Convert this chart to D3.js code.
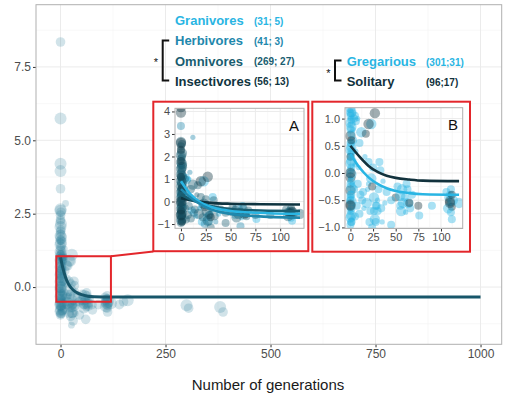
<!DOCTYPE html>
<html>
<head>
<meta charset="utf-8">
<script src="https://cdn.jsdelivr.net/npm/d3@7"></script>
<style>
  body { margin: 0; background: #fff; }
  svg { display: block; font-family: "Liberation Sans", Arial, sans-serif; }
</style>
</head>
<body>
<div id="chart"></div>
<script>
// ---- data: [generations, effect size, weight, social group] ----
const granivores = [
  [0, 1.15, 2, "G"], [0, 0.9, 2, "G"], [1, 0.55, 3, "G"], [0, 0.3, 3, "G"], [2, -0.2, 2, "G"],
  [0, -0.5, 3, "G"], [1, -0.85, 2, "G"], [6, 0.95, 3, "G"], [9, 0.1, 2, "G"], [11, -0.4, 3, "G"],
  [15, -0.65, 2, "G"], [19, -0.3, 2, "G"], [21, -0.9, 3, "G"], [26, -0.7, 3, "G"], [30, -0.5, 2, "G"],
  [38, -0.55, 2, "G"], [55, -0.6, 3, "G"], [61, -0.72, 2, "G"], [76, -0.78, 3, "G"], [109, -0.55, 2, "G"],
  [111, -0.72, 3, "G"], [2, 1.1, 3, "G"], [5, 1.05, 3, "G"], [8, 1.0, 2, "G"], [23, 0.9, 4, "G"],
  [28, -0.9, 3, "G"], [32, 0.2, 3, "G"], [62, -0.2, 3, "G"], [112, -0.85, 3, "G"]
];
const herbivores = [
  [0, 3.35, 3, "G"], [0, 1.55, 2, "G"], [0, 1.0, 2, "G"], [1, 0.4, 3, "G"], [0, -0.1, 2, "G"],
  [0, -0.7, 2, "G"], [3, 0.8, 2, "G"], [9, 1.3, 2, "G"], [12, 2.85, 2, "G"], [13, -0.5, 3, "G"],
  [20, -0.2, 2, "G"], [24, -1.0, 3, "G"], [26, -1.3, 2, "G"], [28, -0.6, 3, "G"], [35, -0.9, 2, "G"],
  [57, -0.3, 4, "G"], [60, -1.1, 3, "G"], [109, -0.4, 2, "G"], [140, -0.6, 3, "G"]
];
const omnivores = [
  [0, 2.65, 4, "G"], [0, 2.45, 3, "G"], [0, 2.25, 3, "G"], [0, 2.05, 4, "G"], [0, 1.9, 3, "G"],
  [0, 1.75, 4, "G"], [0, 1.6, 3, "G"], [0, 1.45, 4, "G"], [0, 1.3, 3, "G"], [0, 1.2, 4, "G"],
  [0, 1.05, 3, "G"], [0, 0.92, 4, "G"], [0, 0.8, 3, "G"], [0, 0.68, 4, "S"], [0, 0.55, 3, "G"],
  [0, 0.42, 4, "G"], [0, 0.3, 3, "S"], [0, 0.18, 4, "G"], [0, 0.05, 3, "G"], [0, -0.08, 4, "S"],
  [0, -0.2, 3, "G"], [0, -0.32, 4, "S"], [0, -0.45, 3, "G"], [0, -0.58, 4, "S"], [0, -0.7, 3, "G"],
  [0, -0.82, 4, "G"], [0, -0.95, 3, "G"], [2, 1.6, 3, "G"], [3, 0.6, 3, "G"], [4, -0.3, 3, "G"],
  [5, 0.15, 2, "G"], [7, -0.6, 3, "G"], [12, 0.75, 4, "G"], [17, 0.72, 3, "S"], [20, 0.2, 3, "G"],
  [23, -0.1, 4, "G"], [26, -0.45, 4, "G"], [29, -0.6, 3, "G"], [33, 0.05, 3, "G"], [40, -0.35, 3, "G"],
  [50, -0.45, 3, "S"], [55, -0.42, 4, "G"], [58, -0.55, 4, "G"], [63, -0.3, 3, "G"], [66, -0.65, 3, "G"],
  [75, -0.6, 3, "S"], [108, -0.45, 3, "G"], [110, -0.52, 4, "S"], [112, -0.62, 3, "S"],
  [160, -0.45, 4, "G"], [300, -0.62, 4, "G"], [305, -0.72, 3, "G"], [380, -0.68, 4, "G"], [387, -0.85, 3, "G"],
  [1, 2.55, 3, "G"], [1, 2.15, 4, "G"], [1, 1.95, 3, "G"], [1, 1.68, 4, "G"], [1, 1.52, 4, "G"],
  [1, 1.38, 3, "G"], [1, 1.12, 4, "G"], [1, 0.98, 3, "G"], [1, 0.85, 4, "G"], [1, 0.72, 3, "G"],
  [1, 0.48, 4, "G"], [1, 0.35, 3, "G"], [1, 0.22, 4, "G"], [1, 0.1, 3, "G"], [1, -0.02, 4, "G"],
  [1, -0.15, 3, "G"], [1, -0.27, 4, "G"], [1, -0.4, 3, "G"], [1, -0.52, 4, "G"], [1, -0.65, 3, "G"],
  [1, -0.78, 4, "G"], [1, -0.9, 3, "G"], [4, 1.0, 3, "G"], [5, -0.8, 3, "G"], [6, 0.4, 2, "G"],
  [8, -0.2, 3, "G"], [10, 0.55, 3, "G"], [10, -0.75, 3, "G"], [14, -0.35, 3, "G"], [16, 0.3, 2, "G"],
  [18, -0.55, 4, "G"], [22, -0.7, 3, "G"], [25, 0.1, 3, "G"], [27, -0.85, 4, "G"], [31, -0.3, 3, "G"],
  [34, -0.65, 3, "G"], [36, -0.15, 2, "G"], [45, -0.5, 3, "G"], [52, -0.25, 3, "G"], [56, -0.7, 4, "G"],
  [60, -0.45, 3, "G"], [64, -0.55, 4, "G"], [68, -0.4, 3, "G"], [106, -0.35, 3, "G"], [108, -0.65, 4, "G"],
  [110, -0.4, 3, "G"], [113, -0.5, 4, "G"], [111, -0.3, 3, "G"], [30, -1.15, 3, "G"], [45, -0.95, 3, "G"],
  [90, -0.6, 3, "G"], [120, -0.55, 4, "G"], [150, -0.5, 3, "G"]
];
const insectivores = [
  [0, 8.35, 3, "S"], [0, 5.74, 4, "S"], [0, 4.2, 4, "S"], [0, 3.95, 4, "S"], [0, 2.6, 4, "S"],
  [0, 2.3, 3, "S"], [0, 1.8, 3, "S"], [0, 1.1, 3, "G"], [1, 0.6, 3, "S"], [0, 0.0, 4, "S"],
  [0, -0.4, 3, "G"], [0, -0.6, 4, "S"], [1, -0.9, 3, "G"], [20, 0.9, 4, "S"], [27, 1.1, 4, "S"],
  [24, -0.25, 3, "S"], [30, -0.7, 3, "G"], [65, -0.55, 3, "S"], [110, -0.55, 4, "S"], [112, -0.4, 3, "S"]
];

// fitted curves: [generations, effect size]
const fitAll = [[0, 1.02], [5, 0.68], [10, 0.42], [15, 0.22], [20, 0.08], [30, -0.1], [40, -0.2],
  [50, -0.26], [65, -0.31], [80, -0.33], [120, -0.34], [1000, -0.34]];
const fitGranivores = [[0, 0.9], [10, 0.3], [20, -0.05], [35, -0.3], [50, -0.42], [75, -0.5], [120, -0.55]];
const fitHerbivores = [[0, 0.55], [15, 0.0], [30, -0.35], [50, -0.55], [75, -0.65], [120, -0.72]];
const fitOmnivores = [[0, 0.3], [15, 0.0], [30, -0.2], [50, -0.33], [80, -0.4], [120, -0.42]];
const fitInsectivores = [[0, 0.15], [15, 0.02], [30, -0.06], [50, -0.1], [80, -0.12], [120, -0.13]];
const fitGregarious = [[0, 0.35], [10, 0.1], [20, -0.08], [30, -0.2], [40, -0.28], [50, -0.33],
  [65, -0.37], [80, -0.39], [120, -0.4]];
const fitSolitary = [[0, 0.5], [10, 0.3], [20, 0.13], [30, 0.02], [40, -0.05], [50, -0.09],
  [65, -0.12], [80, -0.14], [120, -0.15]];

const dietNames = ["Granivores", "Herbivores", "Omnivores", "Insectivores"];
const dietCounts = ["(31; 5)", "(41; 3)", "(269; 27)", "(56; 13)"];
const socialNames = ["Gregarious", "Solitary"];
const socialCounts = ["(301;31)", "(96;17)"];

const xTicksMain = [0, 250, 500, 750, 1000];
const yTicksMain = [0, 2.5, 5, 7.5];
const xTicksInset = [0, 25, 50, 75, 100];
const yTicksA = [-1, 0, 1, 2, 3, 4];
const yTicksB = [-1, -0.5, 0, 0.5, 1];

// ---- styles ----
const dietColor = { Granivores: "#29b5e3", Herbivores: "#1f88ad", Omnivores: "#195d70", Insectivores: "#0f3440" };
const socialColor = { G: "#29b5e3", S: "#12323d" };
const red = "#e3262b";

const W = 506, H = 395;
const svg = d3.select("#chart").append("svg").attr("width", W).attr("height", H);

const points = [];
[["Granivores", granivores], ["Herbivores", herbivores], ["Omnivores", omnivores], ["Insectivores", insectivores]]
  .forEach(([diet, arr]) => arr.forEach(p => points.push({ x: p[0], y: p[1], w: p[2], social: p[3], diet })));

const rScale = d3.scaleSqrt().domain([2, 4]).range([2.6, 5.2]);
const fmt1 = d3.format(".1f");

// draws a ggplot-ish panel (grid, border, ticks) and returns a clipped group
function panel(g, x, y, xt, yt, xMinor, yMinor, yFmt, fs, id) {
  const [x0, x1] = x.range(), [y1, y0] = y.range();
  g.append("rect").attr("x", x0).attr("y", y0).attr("width", x1 - x0).attr("height", y1 - y0).attr("fill", "#fff");
  g.selectAll(null).data(xMinor).join("line")
    .attr("x1", d => x(d)).attr("x2", d => x(d)).attr("y1", y0).attr("y2", y1)
    .attr("stroke", "#f4f4f4").attr("stroke-width", 0.6);
  g.selectAll(null).data(yMinor).join("line")
    .attr("y1", d => y(d)).attr("y2", d => y(d)).attr("x1", x0).attr("x2", x1)
    .attr("stroke", "#f4f4f4").attr("stroke-width", 0.6);
  g.selectAll(null).data(xt).join("line")
    .attr("x1", d => x(d)).attr("x2", d => x(d)).attr("y1", y0).attr("y2", y1)
    .attr("stroke", "#ebebeb").attr("stroke-width", 1);
  g.selectAll(null).data(yt).join("line")
    .attr("y1", d => y(d)).attr("y2", d => y(d)).attr("x1", x0).attr("x2", x1)
    .attr("stroke", "#ebebeb").attr("stroke-width", 1);

  // axes
  g.append("g").attr("transform", `translate(0,${y1})`)
    .call(d3.axisBottom(x).tickValues(xt).tickSize(3).tickPadding(2).tickFormat(d3.format("d")))
    .attr("font-family", null).attr("font-size", fs)
    .call(a => a.select(".domain").remove())
    .call(a => a.selectAll("line").attr("stroke", "#333"))
    .call(a => a.selectAll("text").attr("fill", "#4d4d4d"));
  g.append("g").attr("transform", `translate(${x0},0)`)
    .call(d3.axisLeft(y).tickValues(yt).tickSize(3).tickPadding(2).tickFormat(yFmt))
    .attr("font-family", null).attr("font-size", fs)
    .call(a => a.select(".domain").remove())
    .call(a => a.selectAll("line").attr("stroke", "#333"))
    .call(a => a.selectAll("text").attr("fill", "#4d4d4d"));

  g.append("clipPath").attr("id", id).append("rect")
    .attr("x", x0).attr("y", y0).attr("width", x1 - x0).attr("height", y1 - y0);
  const inner = g.append("g").attr("clip-path", `url(#${id})`);
  g.append("rect").attr("x", x0).attr("y", y0).attr("width", x1 - x0).attr("height", y1 - y0)
    .attr("fill", "none").attr("stroke", "#b0b0b0").attr("stroke-width", 1);
  return inner;
}

function fitLine(g, x, y, data, color, width) {
  g.append("path").datum(data)
    .attr("d", d3.line().x(d => x(d[0])).y(d => y(d[1])).curve(d3.curveMonotoneX))
    .attr("fill", "none").attr("stroke", color).attr("stroke-width", width).attr("stroke-linecap", "butt");
}

// ---- main panel ----
const x = d3.scaleLinear().domain([-58.4, 1050.4]).range([36, 501.7]);
const y = d3.scaleLinear().domain([-1.95, 9.62]).range([344.3, 4.7]);
const main = svg.append("g");
const mainIn = panel(main, x, y, xTicksMain, yTicksMain, [125, 375, 625, 875], [-1.25, 1.25, 3.75, 6.25, 8.75],
  d => fmt1(d), 12, "clipMain");

mainIn.selectAll("circle").data(points).join("circle")
  .attr("cx", d => x(d.x)).attr("cy", d => y(d.y)).attr("r", d => rScale(d.w) + 0.8)
  .attr("fill", "#2f7f99").attr("fill-opacity", 0.22);
fitLine(mainIn, x, y, fitAll, "#17566a", 3);

svg.append("text").attr("x", 268).attr("y", 390).attr("text-anchor", "middle")
  .attr("font-size", 15).attr("fill", "#1a1a1a").text("Number of generations");

// zoom box and connector
svg.append("rect").attr("x", x(-10)).attr("y", y(1.05)).attr("width", x(120) - x(-10)).attr("height", y(-0.5) - y(1.05))
  .attr("fill", "none").attr("stroke", red).attr("stroke-width", 2);
svg.append("line").attr("x1", x(120)).attr("y1", y(1.05)).attr("x2", 153.3).attr("y2", 251.5)
  .attr("stroke", red).attr("stroke-width", 2);

// ---- legend ----
const leg = svg.append("g").attr("font-weight", "bold");
dietNames.forEach((n, i) => {
  const yy = 25 + i * 20.3;
  const t = leg.append("text").attr("x", 175).attr("y", yy).attr("font-size", 13)
    .attr("fill", dietColor[n]).text(n);
  const end = 175 + t.node().getComputedTextLength();
  leg.append("text").attr("x", Math.max(254, end + 3)).attr("y", yy - 0.5).attr("font-size", 10)
    .attr("fill", dietColor[n]).text(dietCounts[i]);
});
socialNames.forEach((n, i) => {
  const yy = 66 + i * 20.3;
  const c = i === 0 ? socialColor.G : socialColor.S;
  const t = leg.append("text").attr("x", 346.7).attr("y", yy).attr("font-size", 13).attr("fill", c).text(n);
  const end = 346.7 + t.node().getComputedTextLength();
  leg.append("text").attr("x", Math.max(426, end + 3)).attr("y", yy - 0.5).attr("font-size", 10)
    .attr("fill", c).text(socialCounts[i]);
});
function bracket(bx, top, bottom, sx, sy) {
  svg.append("path").attr("d", `M${bx + 6.5},${top}H${bx}V${bottom}H${bx + 6.5}`)
    .attr("fill", "none").attr("stroke", "#111").attr("stroke-width", 2);
  svg.append("text").attr("x", sx).attr("y", sy + 6).attr("text-anchor", "middle")
    .attr("font-size", 11).attr("fill", "#111").text("*");
}
bracket(162.7, 40.5, 80.5, 156, 60);
bracket(335, 60.5, 80.5, 328.3, 71);

// ---- inset A ----
svg.append("rect").attr("x", 153.3).attr("y", 101.7).attr("width", 155).attr("height", 149.5)
  .attr("fill", "#fff").attr("stroke", red).attr("stroke-width", 2);
const xa = d3.scaleLinear().domain([-6, 124]).range([175, 304]);
const ya = d3.scaleLinear().domain([-1.19, 4.14]).range([228.3, 108.3]);
const ga = svg.append("g");
const aIn = panel(ga, xa, ya, xTicksInset, yTicksA, [12.5, 37.5, 62.5, 87.5, 112.5],
  [-0.5, 0.5, 1.5, 2.5, 3.5], d3.format("d"), 11, "clipA");
aIn.selectAll("circle").data(points.filter(d => d.x <= 130)).join("circle")
  .attr("cx", d => xa(d.x)).attr("cy", d => ya(d.y)).attr("r", d => rScale(d.w))
  .attr("fill", d => dietColor[d.diet]).attr("fill-opacity", 0.4);
fitLine(aIn, xa, ya, fitInsectivores, dietColor.Insectivores, 2.6);
fitLine(aIn, xa, ya, fitOmnivores, dietColor.Omnivores, 2.6);
fitLine(aIn, xa, ya, fitGranivores, dietColor.Granivores, 2.6);
fitLine(aIn, xa, ya, fitHerbivores, dietColor.Herbivores, 2.6);
ga.append("text").attr("x", 294).attr("y", 131).attr("text-anchor", "middle").attr("font-size", 15)
  .attr("fill", "#111").text("A");

// ---- inset B ----
svg.append("rect").attr("x", 312.3).attr("y", 101.7).attr("width", 157.7).attr("height", 150)
  .attr("fill", "#fff").attr("stroke", red).attr("stroke-width", 2);
const xb = d3.scaleLinear().domain([-6, 124]).range([345, 462.7]);
const yb = d3.scaleLinear().domain([-1.02, 1.2]).range([228.5, 107.7]);
const gb = svg.append("g");
const bIn = panel(gb, xb, yb, xTicksInset, yTicksB, [12.5, 37.5, 62.5, 87.5, 112.5],
  [-0.75, -0.25, 0.25, 0.75], d => fmt1(d), 11, "clipB");
bIn.selectAll("circle").data(points.filter(d => d.x <= 130 && d.y <= 1.25 && d.y >= -1.05)).join("circle")
  .attr("cx", d => xb(d.x)).attr("cy", d => yb(d.y)).attr("r", d => rScale(d.w))
  .attr("fill", d => socialColor[d.social]).attr("fill-opacity", 0.4);
fitLine(bIn, xb, yb, fitSolitary, socialColor.S, 2.6);
fitLine(bIn, xb, yb, fitGregarious, socialColor.G, 2.6);
gb.append("text").attr("x", 453).attr("y", 129.5).attr("text-anchor", "middle").attr("font-size", 15)
  .attr("fill", "#111").text("B");
</script>
</body>
</html>
